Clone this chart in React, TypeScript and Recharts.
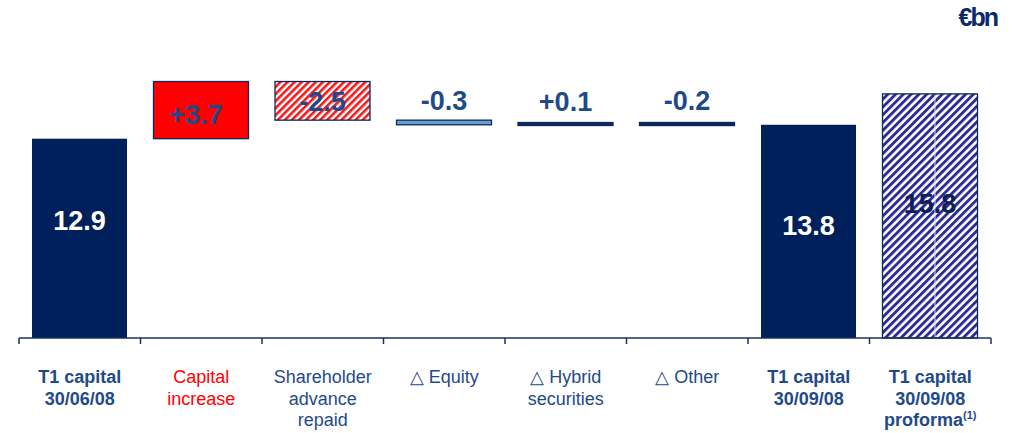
import React from "react"
import { BarChart, Bar, XAxis, YAxis, Cell } from "recharts"

// categories and values (€bn)
const categories = [
  "T1 capital|30/06/08",
  "Capital|increase",
  "Shareholder|advance|repaid",
  "△ Equity",
  "△ Hybrid|securities",
  "△ Other",
  "T1 capital|30/09/08",
  "T1 capital|30/09/08|proforma",
]
const lows = [0, 12.9, 14.1, 13.8, 13.8, 13.75, 0, 0]
const highs = [12.9, 16.6, 16.6, 14.1, 13.9, 13.95, 13.8, 15.8]
const valueLabels = ["12.9", "+3.7", "-2.5", "-0.3", "+0.1", "-0.2", "13.8", "15.8"]

const NAVY = "#00205B"
const TEXT_BLUE = "#1F4A8A"
const FONT = "Arial, 'Liberation Sans', Helvetica, sans-serif"

const fills = [NAVY, "#FF0000", "url(#redHatch)", "#6A9ED0", "#0A2A5C", "#0A2A5C", NAVY, "url(#blueHatch)"]
const labelColors = ["#FFFFFF", TEXT_BLUE, TEXT_BLUE, TEXT_BLUE, TEXT_BLUE, TEXT_BLUE, "#FFFFFF", "#0E1F5B"]
// label centre measured from the bar top
const labelFromTop = [82, 33, 20, -19, -21, -21, 101, 110]
const boldTicks = [true, false, false, false, false, false, true, true]
const tickColors = [TEXT_BLUE, "#FF0000", TEXT_BLUE, TEXT_BLUE, TEXT_BLUE, TEXT_BLUE, TEXT_BLUE, TEXT_BLUE]

const data = categories.map((name, i) => ({ name, range: [lows[i], highs[i]] }))

const BAND = 121.5

function StepBar(props: any) {
  const { x, width, index } = props
  let { y, height } = props
  if (height < 3) {
    y = y + height / 2 - 1.5
    height = 3
  }
  const bordered = index !== 0 && index !== 6
  return (
    <g>
      <rect
        x={x}
        y={y}
        width={width}
        height={height}
        fill={fills[index]}
        stroke={bordered ? "#0A2A5C" : "none"}
        strokeWidth={1.3}
      />
      {index === 7 && (
        <line x1={x + width / 2 + 5} x2={x + width / 2 + 5} y1={y + 1} y2={y + height - 1} stroke="#D8D8F0" strokeWidth={1} />
      )}
      <text
        x={x + width / 2 - (index === 1 ? 5 : 0)}
        y={props.y + labelFromTop[index]}
        textAnchor="middle"
        dominantBaseline="central"
        fill={labelColors[index]}
        fontFamily={FONT}
        fontWeight="bold"
        fontSize={27}
      >
        {valueLabels[index]}
      </text>
    </g>
  )
}

function CategoryTick(props: any) {
  const { x, y, payload } = props
  const i = payload.index
  const lines = String(payload.value).split("|")
  return (
    <g>
      <line x1={x - BAND / 2} x2={x - BAND / 2} y1={y} y2={y + 6} stroke="#1A3060" strokeWidth={1.5} />
      {i === categories.length - 1 && (
        <line x1={x + BAND / 2} x2={x + BAND / 2} y1={y} y2={y + 6} stroke="#1A3060" strokeWidth={1.5} />
      )}
      <text
        textAnchor="middle"
        fill={tickColors[i]}
        fontFamily={FONT}
        fontSize={18}
        fontWeight={boldTicks[i] ? "bold" : "normal"}
      >
        {lines.map((l, k) => (
          <tspan key={k} x={x} y={y + 45 + k * 21.5}>
            {l}
            {i === 7 && k === 2 && (
              <tspan fontSize={11} dy={-7}>
                (1)
              </tspan>
            )}
          </tspan>
        ))}
      </text>
    </g>
  )
}

export default function App() {
  return (
    <div style={{ position: "absolute", left: 0, top: 0, width: 1012, height: 433, background: "#fff" }}>
      <svg width={0} height={0} style={{ position: "absolute" }}>
        <defs>
          <pattern id="redHatch" width={5} height={5} patternUnits="userSpaceOnUse" patternTransform="rotate(45)">
            <rect width={5} height={5} fill="#FFFFFF" />
            <rect width={2.6} height={5} fill="#F01818" />
          </pattern>
          <pattern id="blueHatch" width={5.5} height={5.5} patternUnits="userSpaceOnUse" patternTransform="rotate(45)">
            <rect width={5.5} height={5.5} fill="#FFFFFF" />
            <rect width={2.9} height={5.5} fill="#2C2C94" />
          </pattern>
        </defs>
      </svg>
      <div
        style={{
          position: "absolute",
          right: 15,
          top: 3,
          fontFamily: FONT,
          fontWeight: "bold",
          fontSize: 25,
          color: "#0A2A6B",
          letterSpacing: -2,
        }}
      >
        €bn
      </div>
      <BarChart width={1012} height={433} data={data} margin={{ top: 29, right: 21, bottom: 0, left: 19 }}>
        <YAxis hide domain={[0, 20]} />
        <XAxis
          dataKey="name"
          interval={0}
          height={95}
          tickSize={0}
          tickMargin={0}
          tickLine={false}
          axisLine={{ stroke: "#1A3060", strokeWidth: 1.5 }}
          tick={(p: any) => <CategoryTick {...p} />}
        />
        <Bar dataKey="range" barSize={95} isAnimationActive={false} shape={(p: any) => <StepBar {...p} />}>
          {data.map((_, i) => (
            <Cell key={i} fill={fills[i]} />
          ))}
        </Bar>
      </BarChart>
    </div>
  )
}
